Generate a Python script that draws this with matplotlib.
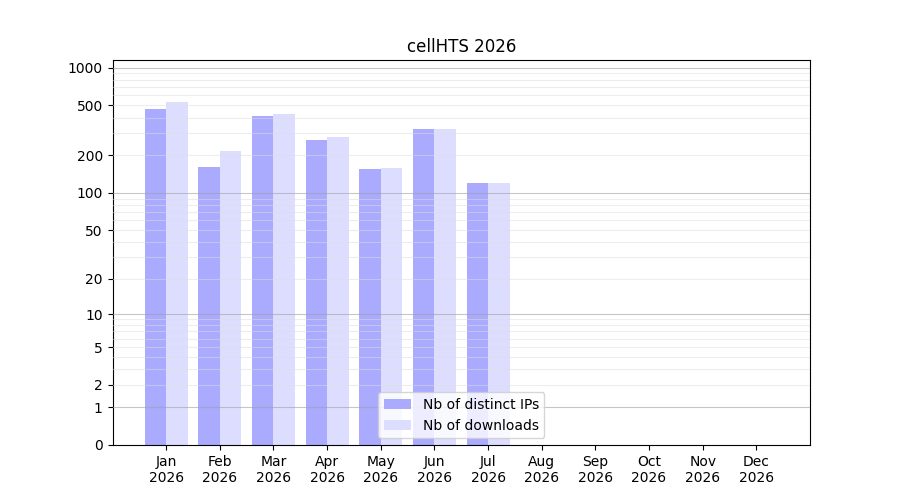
import numpy as np
import matplotlib
matplotlib.use('Agg')
import matplotlib.pyplot as plt

months = ['Jan', 'Feb', 'Mar', 'Apr', 'May', 'Jun', 'Jul', 'Aug', 'Sep', 'Oct', 'Nov', 'Dec']
year = '2026'
distinct_ips = [469, 162, 412, 265, 155, 325, 120, 0, 0, 0, 0, 0]
downloads = [533, 217, 428, 280, 158, 325, 120, 0, 0, 0, 0, 0]
yticks = [0, 1, 2, 5, 10, 20, 50, 100, 200, 500, 1000]

fig, ax = plt.subplots(figsize=(9, 5), dpi=100)
ax.set_yscale('function', functions=(lambda v: np.log10(np.maximum(v, 0) + 1),
                                     lambda t: 10 ** t - 1))

x = np.arange(len(months))
ax.bar(x - 0.2, distinct_ips, width=0.4, color='#aaaaff', label='Nb of distinct IPs', zorder=2)
ax.bar(x + 0.2, downloads, width=0.4, color='#ddddff', label='Nb of downloads', zorder=2)

# grid over the bars: light at every minor step, darker at the decades
for dec in [1, 10, 100]:
    for k in range(2, 10):
        ax.axhline(dec * k, color='#dddddd', linewidth=0.8, alpha=0.5, zorder=3)
for v in [1, 10, 100, 1000]:
    ax.axhline(v, color='#a0a0a0', linewidth=0.8, alpha=0.6, zorder=3)

ax.set_xlim(-1, 12)
ax.set_ylim(0, 1150)
ax.set_xticks(x)
ax.set_xticklabels(['{}\n{}'.format(m, year) for m in months])
ax.set_yticks(yticks)
ax.set_yticklabels([str(t) for t in yticks])
ax.minorticks_off()
ax.set_title('cellHTS 2026')
ax.legend(loc='lower center')

fig.savefig('out.png', dpi=100)
